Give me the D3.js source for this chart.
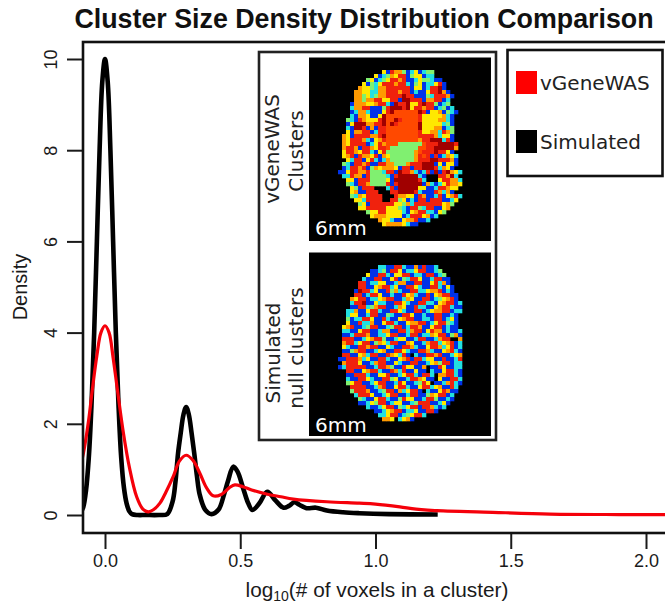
<!DOCTYPE html>
<html>
<head>
<meta charset="utf-8">
<script src="https://cdn.jsdelivr.net/npm/d3@7"></script>
<style>
html, body { margin: 0; padding: 0; background: #fff; overflow: hidden; }
svg { display: block; }
</style>
</head>
<body>
<svg></svg>
<script>
var width = 665;
var height = 606;
var plot = {left: 83, top: 42, bottom: 533, right: 672};

// density curves
var simulatedX = [-0.09,-0.08,-0.07,-0.06,-0.05,-0.04,-0.03,-0.02,-0.01,0,0.01,0.02,0.03,0.04,0.05,0.06,0.07,0.08,0.09,0.1,0.12,0.15,0.2,0.23,0.25,0.26,0.27,0.28,0.29,0.3,0.31,0.32,0.33,0.34,0.35,0.37,0.394,0.42,0.44,0.455,0.474,0.49,0.51,0.53,0.545,0.57,0.6,0.63,0.66,0.68,0.7,0.72,0.745,0.78,0.82,0.88,0.94,1.05,1.23];
var simulatedY = [0.05,0.18,0.55,1.25,2.4,4,6,8,9.5,10,9.5,8,6,4,2.4,1.25,0.6,0.25,0.08,0.02,0,0,0,0.02,0.3,0.7,1.35,1.8,2.2,2.37,2.2,1.8,1.35,0.85,0.45,0.12,0.02,0.12,0.45,0.75,1.06,0.95,0.6,0.25,0.11,0.25,0.51,0.32,0.16,0.2,0.28,0.22,0.15,0.16,0.1,0.06,0.04,0.02,0.01];
var vgenewasX = [-0.09,-0.08,-0.06,-0.047,-0.03,-0.015,0,0.015,0.03,0.046,0.068,0.09,0.117,0.14,0.16,0.18,0.203,0.225,0.252,0.275,0.3,0.325,0.351,0.375,0.4,0.43,0.46,0.48,0.51,0.542,0.597,0.65,0.696,0.82,0.94,1,1.09,1.15,1.25,1.4,1.645,1.9,2.1];
var vgenewasY = [1.1,1.35,2.1,2.74,3.5,4,4.15,4,3.45,2.74,1.8,1.05,0.4,0.13,0.07,0.12,0.26,0.5,0.84,1.18,1.31,1.2,0.91,0.6,0.42,0.45,0.6,0.66,0.62,0.55,0.46,0.4,0.35,0.29,0.26,0.24,0.18,0.13,0.09,0.065,0.02,0.01,0.01];

var xTicks = [0, 0.5, 1, 1.5, 2];
var yTicks = [0, 2, 4, 6, 8, 10];
var legendLabels = ['vGeneWAS', 'Simulated'];
var legendColors = ['#ff0000', '#000000'];

// one letter per voxel, '.' is background
var voxelCodes = ['.', 'b', 'c', 'g', 'y', 'o', 'R', 'r', 'd'];
var voxelColors = ['#000000', '#0030e8', '#20e0e0', '#80f070', '#ffe800', '#ff9a00', '#ff4a00', '#f02010', '#a00000'];

var brainClusters = [
  '...........ybroogbcybcgg',
  '.........ybcgoyrrbgyybcc',
  '.......gybcgyrrorbbcyggcbb',
  '......ybgcyrrrorrcbgybccyrb',
  '.....oyygcoorrrrrrbyybcrrdb',
  '....ooyyccoorrrorrbcbbyrrdob',
  '....oogycgoorrrrdrrbbbgcrrrob',
  '....oogoorryyrrbddrrrboorrbc',
  '...boooyyorrcbdrrdyyrdrrgbcg',
  '...coorrbbbgrdddrdyrrorrbcgbc',
  '...bcoocbbbyrdRRRRRRdrbyyobgcb',
  '...cbooybbydRRRRRRRRryyyyyocb',
  '..gcbroyyyrdRRdrRRRRryyyyoocb',
  '..bydddoorrdRdrRRRRRdyyyyycgb',
  '..cbddrbobrrRRRRRRRRdyyyoobcg',
  '..yboorrbcrrRRRRRRRRryyoocrog',
  '.oybrrrroordRRRRRRRRrrrrocyyb',
  '.oyrrrocbyorRRRRRRRRorrdddcrb',
  '.oyrrrrbcyroRRRggggggRrrrddddr',
  '.orrobrroyrrRgggggggRRrrdddddo',
  '.yrroyrrcbyrgggggggoRrrrdrryb',
  '.yorbrooyrboyggggggorRrbrbcoyc',
  '..ycrrbyrcbcoggggggorrrddrrrob',
  '.gcbrrorbbrroogggorrrdddbybyyb',
  '.bcrrorbgoyoooybrrbrrdddrcoyb',
  'bbyrroorgggcrrbdrrocbcrbdbrdoyc',
  '.ccroobrggggcbrdddddcb...rrodc',
  '..yybrrrggggybddddddrc...yrrooc',
  '..gcbrroggggrbrddddddbocbcyrooy',
  '...ygbrrr...crbdddddyybbcrroyy',
  '...yobbrrr...rrddddrcbbbrocob',
  '...gcoyrrrr...rooyybrobbcrbyorc',
  '....yycrrrr..rrgybcbrrbrrrbbcy',
  '.....gybrrrrrryygocrrrrrrryog',
  '.....yyrrrrryyygcbrrgcrrbbyo',
  '.......gyyrryyyycbyorrccbyg',
  '........yoooyyyybcrrryobc',
  '..........oyycbbyoorbbc',
  '...........yooooycbb'
];

var brainNull = [
  '..........ccbbrrcbbobrbbc',
  '........bbcgbrrybccyrrbbcg',
  '.......ybbrrcbyyrrbccbrrbcg',
  '......cbbrrbbyrbgcrrybbcrrbb',
  '.....rrbccyybbcoobbrrbbyrcob',
  '.....rrbbyorrcybbrrycbbrrcbyb',
  '....bdrrcybbrgocbbrrccyoorbcb',
  '....rrbcrrybbcbbryocbbrbyorrbb',
  '...oyrrbccyorrbbcoybbrrbcgyorb',
  '...crrdbbyccbbrrycbbrrccbyorrbc',
  '...bbrrcgorrbbcoybbrccbbyorrcbb',
  '..ccobbyrrcbbrrycbbrrbcyoorrbcc',
  '..cyybbcrrbbgcbbrrybbcbbrrbbcb',
  '..gbccrrybbrcbbyorrbbccbrrbcyb',
  '..ybbrccobbyrrcbbyoorrbcyrrgcb',
  '.yorbbcgrrbbcgrrbcrrobbyrrbcbb',
  '.ccbbyrrbbcoobbrrcorrbyroobcbbc',
  '.bbcrrrobbccyrrbbcrrbccoyrrbgob',
  '.rrrbbcyorrgbbcyybbcrrbbcorr..oo',
  '.orrcyrrbgoycrrbboybbcorrcyorbcc',
  '.ycbbrrorrbbycbbrrocbbyrrocyrbc',
  '.bbgorrbbcyobbrrycbbrrocbbyorcbc',
  '.rrbbyocrrbbroycrb.cbbrrorbbcyoc',
  'bbrrrocybbrrcbbyorbrrcyybbrbbcrc',
  '.orrrybbcorrbbycbbrrbbcyogrrbcc',
  'bcrrrrrbbcrrogbbryybbo.bbrybbcc',
  '..rrbbyorrcbbrocrbbybb.cbbyrrcb',
  '..bbrrrcbbyyrbbcyrrcbrrc.oorrcb',
  '..cbbrrycbbrrgybbcrroybb.ybbrrc',
  '..gyrrbbcyrrbbcrybbcgry.bbcorcb',
  '...rrrrbbcorbbyrrcbbyrrcyobbrc',
  '...grrrobbcgrrbocyrrb.cbbyrobb',
  '....crrrybbcyrrbbcrrbbgoyrrbc',
  '.....gcbbyrrcbbgryybbcrrgbbcb',
  '.....bbcygrrbcyybbcgrrrbbcyb',
  '.......cbbcyrrbgcyrrbrrocbc',
  '.........bbcyorrbccybbrrb',
  '..........ccyrrbcgyrrc',
  '...........ooy.cyob'
];

var x = d3.scaleLinear().domain([0, 2]).range([105, 646]);
var y = d3.scaleLinear().domain([0, 10]).range([515, 59]);
var voxelColor = d3.scaleOrdinal().domain(voxelCodes).range(voxelColors);

const svg = d3.select('svg')
    .attr('width', width)
    .attr('height', height)
    .attr('font-family', '"Liberation Sans", Arial, sans-serif')
    .attr('fill', '#1a1a1a');

const defs = svg.append('defs');
defs.append('clipPath').attr('id', 'plotClip').append('rect')
    .attr('x', plot.left).attr('y', plot.top)
    .attr('width', plot.right - plot.left).attr('height', plot.bottom - plot.top);
defs.append('filter').attr('id', 'soft').append('feGaussianBlur').attr('stdDeviation', 0.5);

svg.append('text')
    .attr('x', 364).attr('y', 28)
    .attr('text-anchor', 'middle')
    .attr('font-size', 26.8).attr('font-weight', 'bold').attr('fill', '#111')
    .text('Cluster Size Density Distribution Comparison');

// axes
const xAxis = d3.axisBottom(x).tickValues(xTicks).tickFormat(d3.format('.1f')).tickSize(16).tickPadding(5);
const yAxis = d3.axisLeft(y).tickValues(yTicks).tickSize(16).tickPadding(9);

const xG = svg.append('g')
    .attr('transform', `translate(0,${plot.bottom})`)
    .call(xAxis);
const yG = svg.append('g')
    .attr('transform', `translate(${plot.left},0)`)
    .call(yAxis);
xG.select('.domain').remove();
yG.select('.domain').remove();
svg.selectAll('.tick line').attr('stroke', '#1a1a1a').attr('stroke-width', 2);
xG.selectAll('text').attr('font-size', 18).attr('font-family', '"Liberation Sans", Arial, sans-serif').attr('fill', '#1a1a1a');
yG.selectAll('text')
    .attr('font-size', 18)
    .attr('font-family', '"Liberation Sans", Arial, sans-serif')
    .attr('fill', '#1a1a1a')
    .attr('text-anchor', 'middle')
    .attr('dy', 0)
    .attr('x', 0)
    .attr('y', 0)
    .attr('transform', 'translate(-26,0) rotate(-90)');

// curves
const line = d3.line()
    .x(d => x(d[0]))
    .y(d => y(d[1]))
    .curve(d3.curveCatmullRom.alpha(0.5));

const curves = svg.append('g').attr('clip-path', 'url(#plotClip)');
curves.append('path')
    .datum(d3.zip(simulatedX, simulatedY))
    .attr('fill', 'none')
    .attr('stroke', '#000')
    .attr('stroke-width', 4.6)
    .attr('stroke-linejoin', 'round')
    .attr('d', line);
curves.append('path')
    .datum(d3.zip(vgenewasX, vgenewasY))
    .attr('fill', 'none')
    .attr('stroke', '#f5000a')
    .attr('stroke-width', 3.2)
    .attr('stroke-linejoin', 'round')
    .attr('d', line);

// plot frame
svg.append('rect')
    .attr('x', plot.left).attr('y', plot.top)
    .attr('width', plot.right - plot.left).attr('height', plot.bottom - plot.top)
    .attr('fill', 'none').attr('stroke', '#111').attr('stroke-width', 2.6);

svg.append('text')
    .attr('transform', 'translate(27,287) rotate(-90)')
    .attr('text-anchor', 'middle')
    .attr('font-size', 20)
    .text('Density');

const xLabel = svg.append('text')
    .attr('x', 377).attr('y', 597)
    .attr('text-anchor', 'middle')
    .attr('font-size', 20.8);
xLabel.append('tspan').text('log');
xLabel.append('tspan').attr('font-size', 14).attr('dy', 4).text('10');
xLabel.append('tspan').attr('dy', -4).text('(# of voxels in a cluster)');

// inset with the two brain maps
svg.append('rect')
    .attr('x', 259).attr('y', 52).attr('width', 237).attr('height', 388)
    .attr('fill', '#fff').attr('stroke', '#222').attr('stroke-width', 2.6);

const panelFont = '"DejaVu Sans", sans-serif';

function drawBrain(rows, top, labelY, lines) {
  const panel = svg.append('g');
  panel.append('rect')
      .attr('x', 309).attr('y', top).attr('width', 182).attr('height', 183.5)
      .attr('fill', '#000');
  const bx = d3.scaleBand().domain(d3.range(31)).range([338, 462]);
  const by = d3.scaleBand().domain(d3.range(rows.length)).range([top + 12.5, top + 12.5 + 156]);
  const cells = rows.flatMap((row, r) => row.split('').slice(0, 31).map((code, c) => ({r, c, code})));
  panel.append('g')
      .attr('filter', 'url(#soft)')
      .selectAll('rect')
      .data(cells.filter(d => d.code !== '.'))
      .join('rect')
      .attr('x', d => bx(d.c))
      .attr('y', d => by(d.r))
      .attr('width', bx.bandwidth() + 0.3)
      .attr('height', by.bandwidth() + 0.3)
      .attr('fill', d => voxelColor(d.code));
  panel.append('text')
      .attr('x', 315).attr('y', labelY)
      .attr('font-family', panelFont).attr('font-size', 20).attr('fill', '#fff')
      .text('6mm');
  panel.selectAll('.side')
      .data(lines)
      .join('text')
      .attr('class', 'side')
      .attr('transform', d => `translate(${d.bx},${d.cy}) rotate(-90)`)
      .attr('text-anchor', 'middle')
      .attr('font-family', panelFont).attr('font-size', 20).attr('fill', '#222')
      .text(d => d.text);
}

drawBrain(brainClusters, 57.5, 234.5, [
  {text: 'vGeneWAS', bx: 279, cy: 149},
  {text: 'Clusters', bx: 303, cy: 151}
]);
drawBrain(brainNull, 252.5, 432, [
  {text: 'Simulated', bx: 280, cy: 353},
  {text: 'null clusters', bx: 303, cy: 348}
]);

// legend
svg.append('rect')
    .attr('x', 507.5).attr('y', 50).attr('width', 155).attr('height', 126)
    .attr('fill', '#fff').attr('stroke', '#111').attr('stroke-width', 2.6);

const legendY = d3.scalePoint().domain(legendLabels).range([71, 130]);
const legend = svg.selectAll('.legend')
    .data(legendLabels)
    .join('g')
    .attr('class', 'legend')
    .attr('transform', d => `translate(516,${legendY(d)})`);
legend.append('rect')
    .attr('width', 21).attr('height', 23)
    .attr('fill', (d, i) => legendColors[i]);
legend.append('text')
    .attr('x', 24).attr('y', 19)
    .attr('font-family', panelFont).attr('font-size', 20).attr('fill', '#222')
    .text(d => d);
</script>
</body>
</html>
